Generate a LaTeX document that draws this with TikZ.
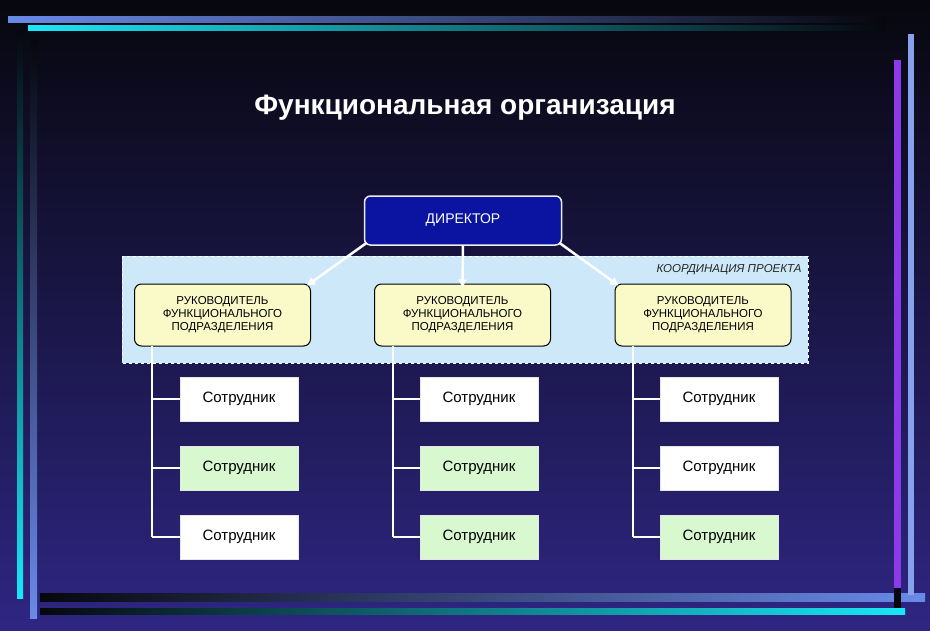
\documentclass[tikz,border=0pt]{standalone}
\usepackage{fontspec}
\setmainfont{Liberation Sans}
\usetikzlibrary{arrows.meta}
\definecolor{bgtop}{HTML}{07070E}
\definecolor{bgbot}{HTML}{2E2682}
\definecolor{barblue}{HTML}{6A8AE8}
\definecolor{barcyan}{HTML}{18E8F8}
\definecolor{barpurple}{HTML}{8A3AE8}
\definecolor{dirblue}{HTML}{0A14A0}
\definecolor{coord}{HTML}{CDE8F8}
\definecolor{mgr}{HTML}{FAFAC8}
\definecolor{grn}{HTML}{D8F8D0}
\tikzset{
 mgrbox/.style={draw=black,line width=1pt,fill=mgr,rounded corners=7pt,minimum width=176pt,minimum height=62pt,align=center,font=\fontsize{11.5}{13}\selectfont},
 emp/.style={draw=white!80!gray,line width=0.8pt,minimum width=118pt,minimum height=44pt,font=\fontsize{15}{17}\selectfont},
 wemp/.style={emp,fill=white},
 gemp/.style={emp,fill=grn},
 link/.style={white,line width=2pt},
 arr/.style={white,line width=2.5pt,-{Triangle[length=8pt,width=8pt]}}
}
\begin{document}
\begin{tikzpicture}[x=1pt,y=-1pt]
\useasboundingbox (0,0) rectangle (930,630);
\shade[top color=bgtop,bottom color=bgbot] (0,0) rectangle (930,630);
% border bars
\shade[left color=barblue,right color=bgtop] (8,16) rectangle (885,22);
\shade[left color=barcyan,right color=bgtop] (28,25) rectangle (885,30);
\shade[top color=bgtop,bottom color=barcyan] (17,30) rectangle (23,598);
\shade[top color=bgtop,bottom color=barblue] (30,40) rectangle (37,618);
\shade[left color=bgtop,right color=barblue] (40,593) rectangle (925,601);
\shade[left color=bgtop,right color=barcyan] (40,608) rectangle (905,614);
\fill[barpurple] (894,60) rectangle (901,588);
\fill[barblue!80!white] (908,34) rectangle (914,595);
\fill[bgtop] (894,588) rectangle (901,608);
\node[text=white] (title) at (465,108) {\fontsize{28}{32}\selectfont\bfseries Функциональная организация};
% coordination area
\draw[fill=coord,draw=white,dashed,line width=0.6pt] (122,256) rectangle (808,363);
\node[anchor=east,font=\fontsize{11.5}{12}\selectfont\itshape,text=black!85] (coordlbl) at (805,270) {КООРДИНАЦИЯ ПРОЕКТА};
% director
\node[draw=white!85!gray,line width=1.5pt,fill=dirblue,rounded corners=6pt,minimum width=197pt,minimum height=49pt,text=white,font=\fontsize{14}{16}\selectfont] (dir) at (463,220.5) {ДИРЕКТОР};
% managers
\node[mgrbox] (m1) at (222.5,315) {РУКОВОДИТЕЛЬ\\ФУНКЦИОНАЛЬНОГО\\ПОДРАЗДЕЛЕНИЯ};
\node[mgrbox] (m2) at (462.5,315) {РУКОВОДИТЕЛЬ\\ФУНКЦИОНАЛЬНОГО\\ПОДРАЗДЕЛЕНИЯ};
\node[mgrbox] (m3) at (703,315) {РУКОВОДИТЕЛЬ\\ФУНКЦИОНАЛЬНОГО\\ПОДРАЗДЕЛЕНИЯ};
\draw[arr] (dir.south west)++(3,-3) -- ([shift={(-4,2)}]m1.north east);
\draw[arr] (dir.south) -- ([yshift=-4]m2.north);
\draw[arr] (dir.south east)++(-3,-3) -- ([shift={(4,2)}]m3.north west);
% employees
\foreach \c/\mx in {1/152, 2/393, 3/633}{
  \coordinate (top\c) at (\mx,346);
  \coordinate (bot\c) at (\mx,537);
  \draw[link] (top\c) -- (bot\c);
}
\node[wemp] (e11) at (239,399) {Сотрудник};
\node[gemp] (e12) at (239,468) {Сотрудник};
\node[wemp] (e13) at (239,537) {Сотрудник};
\node[wemp] (e21) at (479,399) {Сотрудник};
\node[gemp] (e22) at (479,468) {Сотрудник};
\node[gemp] (e23) at (479,537) {Сотрудник};
\node[wemp] (e31) at (719,399) {Сотрудник};
\node[wemp] (e32) at (719,468) {Сотрудник};
\node[gemp] (e33) at (719,537) {Сотрудник};
\foreach \c in {1,2,3}{\foreach \r in {1,2,3}{
  \draw[link] (top\c |- e\c\r.west) -- (e\c\r.west);
}}
\end{tikzpicture}
\end{document}
